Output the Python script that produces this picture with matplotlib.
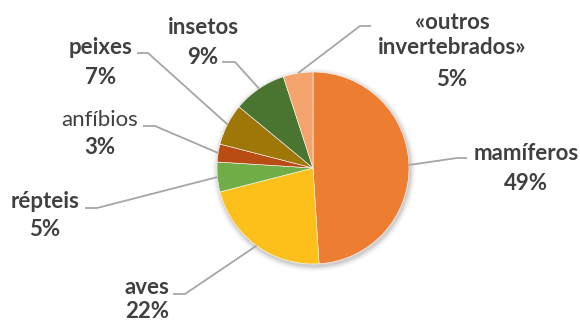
import numpy as np
import matplotlib
matplotlib.use("Agg")
import matplotlib.pyplot as plt

categories = ["mamíferos", "aves", "répteis", "anfíbios", "peixes", "insetos", "«outros\ninvertebrados»"]
values = [49, 22, 5, 3, 7, 9, 5]
pct_labels = ["49%", "22%", "5%", "3%", "7%", "9%", "5%"]
colors = ["#ED7D31", "#FDBF1A", "#70AD47", "#B84C12", "#9F7608", "#4A7530", "#F3A36B"]
bold = [True, True, True, False, True, True, True]

# layout (image pixel coords, y down)
W, H = 580, 324
cx, cy, R = 313, 168, 96
label_pos = [(526, 153), (147, 287), (45, 202), (100, 120), (101, 48), (203, 28), (452, 35)]
pct_dy = [30, 25, 28, 28, 29, 29, 44]
elbows = [((457, 158), (467, 158)), ((185, 294), (173, 294)), ((97, 208), (85, 208)),
          ((155, 126), (143, 126)), ((148, 53), (137, 53)), ((235, 62), (222, 62)),
          ((360, 26), (371, 26))]

plt.rcParams['font.family'] = ['Lato', 'DejaVu Sans']
fig = plt.figure(figsize=(W / 100, H / 100), dpi=100)
ax = fig.add_axes([0, 0, 1, 1])
ax.set_xlim(0, W)
ax.set_ylim(0, H)
ax.axis('off')

# soft shadow
for i, a in enumerate(np.linspace(0.05, 0.01, 6)):
    ax.add_patch(plt.Circle((cx + 1, H - cy - 2), R + 1 + i, color='black', alpha=a, lw=0, zorder=0))

wedges, _ = ax.pie(values, colors=colors, startangle=90, counterclock=False,
                   center=(cx, H - cy), radius=R, frame=True,
                   wedgeprops=dict(edgecolor='white', linewidth=0.4))
ax.set_xlim(0, W)
ax.set_ylim(0, H)
ax.set_aspect('equal')
ax.axis('off')

cum = np.cumsum([0] + values)
total = sum(values)
for i, (cat, pct) in enumerate(zip(categories, pct_labels)):
    mid = (cum[i] + values[i] / 2) / total * 360
    sx = cx + R * np.sin(np.radians(mid))
    sy = cy - R * np.cos(np.radians(mid))
    (ex, ey), (fx, fy) = elbows[i]
    ax.plot([sx, ex, fx], [H - sy, H - ey, H - fy], color='#A6A6A6', lw=1.3, zorder=1,
            solid_capstyle='butt')
    lx, ly = label_pos[i]
    fw = 'bold' if bold[i] else 'normal'
    ax.text(lx, H - ly, cat, ha='center', va='center', fontsize=16, fontweight=fw,
            color='#404040', linespacing=1.2)
    ax.text(lx, H - ly - pct_dy[i], pct, ha='center', va='center', fontsize=16,
            fontweight='bold', color='#404040')

fig.savefig("out.png", dpi=100)
